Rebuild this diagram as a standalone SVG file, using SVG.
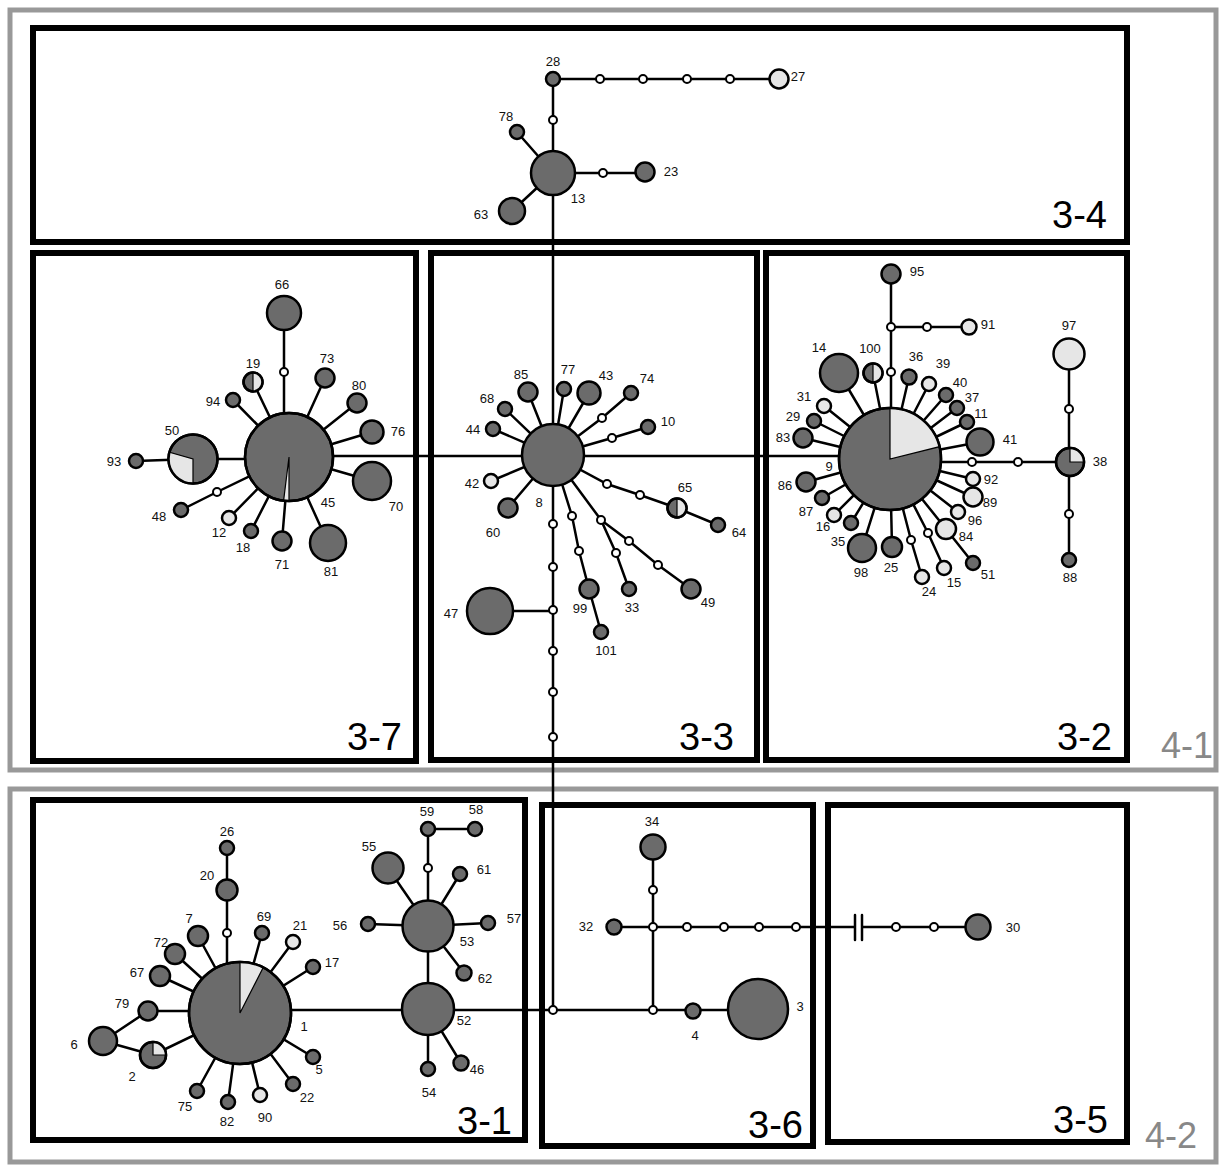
<svg xmlns="http://www.w3.org/2000/svg" width="1223" height="1168" viewBox="0 0 1223 1168">
<style>
.e{stroke:#000;stroke-width:2.5;fill:none;stroke-linecap:round}
.d{fill:#6b6b6b;stroke:#000;stroke-width:2.5}
.l{fill:#e6e6e6;stroke:#000;stroke-width:2.5}
.m{fill:#fff;stroke:#000;stroke-width:2}
.w{fill:#e6e6e6;stroke:#000;stroke-width:1.2}
.o{fill:none;stroke:#000;stroke-width:2.5}
.t{font-family:"Liberation Sans",Arial,sans-serif;font-size:13px;text-anchor:middle;fill:#111}
.bx{fill:none;stroke:#000;stroke-width:6}
.gx{fill:none;stroke:#999;stroke-width:5}
.bl{font-family:"Liberation Sans",Arial,sans-serif;font-size:38px;text-anchor:end;fill:#000}
.gl{font-family:"Liberation Sans",Arial,sans-serif;font-size:36px;text-anchor:end;fill:#888}
</style>
<rect width="1223" height="1168" fill="#fff"/>
<g id="frames">
<rect class="gx" x="10" y="10" width="1206" height="760"/>
<rect class="gx" x="10" y="789" width="1206" height="373"/>
<rect class="bx" x="33" y="28" width="1094" height="214"/>
<rect class="bx" x="33" y="253" width="383" height="508"/>
<rect class="bx" x="431" y="253" width="326" height="507"/>
<rect class="bx" x="766" y="253" width="361" height="507"/>
<rect class="bx" x="33" y="800" width="492" height="340"/>
<rect class="bx" x="542" y="805" width="271" height="341"/>
<rect class="bx" x="828" y="805" width="299" height="337"/>
<text class="bl" x="1107" y="228">3-4</text>
<text class="bl" x="402" y="750">3-7</text>
<text class="bl" x="734" y="750">3-3</text>
<text class="bl" x="1112" y="750">3-2</text>
<text class="bl" x="512" y="1134">3-1</text>
<text class="bl" x="803" y="1138">3-6</text>
<text class="bl" x="1108" y="1133">3-5</text>
<text class="gl" x="1213" y="758">4-1</text>
<text class="gl" x="1197" y="1148">4-2</text>
</g>
<g id="connectors">
<path class="e" d="M553 79 H779 M553 79 V1010 M553 173 L517 132 M553 173 L512 211 M553 173 H645"/>
<path class="e" d="M289 456 H890 M890 462 H1070 M1069 354 V560"/>
<path class="e" d="M284 457 V313 M289 457 L253 382 M289 457 L233 400 M289 457 L325 378 M289 457 L357 403 M289 457 L372 432 M289 457 L372 481 M289 457 L328 543 M289 457 L282 541 M289 457 L251 531 M289 457 L229 518 M289 457 L217 492 L181 510 M289 459 L193 459 L136 461"/>
<path class="e" d="M553 455 L528 392 M553 455 L564 389 M553 455 L589 393 M553 455 L602 418 L631 393 M553 455 L612 438 L648 427 M553 455 L505 409 M553 455 L493 429 M553 455 L491 481 M553 455 L508 508 M553 455 L607 484 L640 495 L677 508 L718 525 M553 455 L572 516 L579 551 L589 589 L601 632 M553 455 L601 520 L616 553 L629 589 M601 520 L629 541 L658 565 L691 589 M490 611 H553"/>
<path class="e" d="M891 459 V274 M891 327 H969 M890 459 L839 373 M890 459 L873 373 M890 459 L909 377 M890 459 L929 384 M890 459 L946 395 M890 459 L957 408 M890 459 L967 422 M890 459 L980 442 M890 459 L824 406 M890 459 L814 421 M890 459 L803 438 M890 459 L806 482 M890 459 L822 498 M890 459 L834 515 M890 459 L851 523 M890 459 L862 548 M890 459 L892 547 M890 459 L911 540 L922 577 M890 459 L928 533 L944 568 M890 459 L946 529 L973 563 M890 459 L958 512 M890 459 L973 497 M890 459 L973 479"/>
<path class="e" d="M227 1013 V848 M240 1013 L198 936 M240 1013 L175 954 M240 1013 L160 976 M240 1011 L148 1011 M240 1013 L153 1055 M148 1011 L103 1041 L153 1055 M240 1013 L197 1091 M240 1013 L228 1102 M240 1013 L260 1095 M240 1013 L293 1084 M240 1013 L313 1057 M240 1013 L313 967 M240 1013 L293 942 M240 1013 L262 933 M240 1010 H758"/>
<path class="e" d="M428 1009 V829 H475 M428 926 L388 868 M428 926 L460 874 M428 926 L368 924 M428 926 L488 923 M428 926 L464 973 M428 1009 L428 1069 M428 1009 L461 1063"/>
<path class="e" d="M653 1010 V847 M614 927 H855 M862 927 H978 M855 915 V940 M862 915 V940"/>
</g>
<g id="mediators">
<circle class="m" cx="600" cy="79" r="4"/><circle class="m" cx="643" cy="79" r="4"/><circle class="m" cx="687" cy="79" r="4"/><circle class="m" cx="730" cy="79" r="4"/><circle class="m" cx="553" cy="120" r="4"/><circle class="m" cx="603" cy="173" r="4"/>
<circle class="m" cx="284" cy="372" r="4"/><circle class="m" cx="217" cy="492" r="4"/>
<circle class="m" cx="602" cy="418" r="4"/><circle class="m" cx="612" cy="438" r="4"/><circle class="m" cx="607" cy="484" r="4"/><circle class="m" cx="640" cy="495" r="4"/><circle class="m" cx="572" cy="516" r="4"/><circle class="m" cx="579" cy="551" r="4"/><circle class="m" cx="601" cy="520" r="4"/><circle class="m" cx="616" cy="553" r="4"/><circle class="m" cx="629" cy="541" r="4"/><circle class="m" cx="658" cy="565" r="4"/>
<circle class="m" cx="553" cy="524" r="4"/><circle class="m" cx="553" cy="567" r="4"/><circle class="m" cx="553" cy="610" r="4"/><circle class="m" cx="553" cy="651" r="4"/><circle class="m" cx="553" cy="692" r="4"/><circle class="m" cx="553" cy="737" r="4"/><circle class="m" cx="553" cy="1010" r="4"/>
<circle class="m" cx="891" cy="372" r="4"/><circle class="m" cx="891" cy="327" r="4"/><circle class="m" cx="927" cy="327" r="4"/><circle class="m" cx="972" cy="462" r="4"/><circle class="m" cx="1018" cy="462" r="4"/><circle class="m" cx="1069" cy="409" r="4"/><circle class="m" cx="1069" cy="514" r="4"/><circle class="m" cx="911" cy="540" r="4"/><circle class="m" cx="928" cy="533" r="4"/>
<circle class="m" cx="227" cy="933" r="4"/><circle class="m" cx="428" cy="868" r="4"/>
<circle class="m" cx="653" cy="1010" r="4"/><circle class="m" cx="653" cy="927" r="4"/><circle class="m" cx="653" cy="890" r="4"/><circle class="m" cx="687" cy="927" r="4"/><circle class="m" cx="724" cy="927" r="4"/><circle class="m" cx="759" cy="927" r="4"/><circle class="m" cx="796" cy="927" r="4"/><circle class="m" cx="896" cy="927" r="4"/><circle class="m" cx="934" cy="927" r="4"/>
</g>
<g id="n28"><circle class="d" cx="553" cy="79" r="7"/><text class="t" x="553" y="66">28</text></g>
<g id="n27"><circle class="l" cx="779" cy="79" r="9.5"/><text class="t" x="798" y="81">27</text></g>
<g id="n78"><circle class="d" cx="517" cy="132" r="7"/><text class="t" x="506" y="121">78</text></g>
<g id="n13"><circle class="d" cx="553" cy="173" r="22"/><text class="t" x="578" y="203">13</text></g>
<g id="n63"><circle class="d" cx="512" cy="211" r="13"/><text class="t" x="481" y="219">63</text></g>
<g id="n23"><circle class="d" cx="645" cy="172" r="9.5"/><text class="t" x="671" y="176">23</text></g>
<g id="n66"><circle class="d" cx="284" cy="313" r="17"/><text class="t" x="282" y="289">66</text></g>
<g id="n19"><circle class="d" cx="253" cy="382" r="9.5"/><path class="w" d="M253 372.5 A9.5 9.5 0 0 1 253 391.5 Z"/><circle class="o" cx="253" cy="382" r="9.5"/><text class="t" x="253" y="368">19</text></g>
<g id="n94"><circle class="d" cx="233" cy="400" r="7"/><text class="t" x="213" y="406">94</text></g>
<g id="n73"><circle class="d" cx="325" cy="378" r="9.5"/><text class="t" x="327" y="363">73</text></g>
<g id="n80"><circle class="d" cx="357" cy="403" r="9.5"/><text class="t" x="359" y="390">80</text></g>
<g id="n76"><circle class="d" cx="372" cy="432" r="11.5"/><text class="t" x="398" y="436">76</text></g>
<g id="n70"><circle class="d" cx="372" cy="481" r="19"/><text class="t" x="396" y="511">70</text></g>
<g id="n45"><circle class="d" cx="289" cy="457" r="44"/><path class="w" d="M289 457 L289 501 A44 44 0 0 1 283.6 500.7 Z"/><circle class="o" cx="289" cy="457" r="44"/><text class="t" x="328" y="507">45</text></g>
<g id="n81"><circle class="d" cx="328" cy="543" r="18"/><text class="t" x="331" y="576">81</text></g>
<g id="n71"><circle class="d" cx="282" cy="541" r="9.5"/><text class="t" x="282" y="569">71</text></g>
<g id="n18"><circle class="d" cx="251" cy="531" r="7"/><text class="t" x="243" y="552">18</text></g>
<g id="n12"><circle class="l" cx="229" cy="518" r="7"/><text class="t" x="219" y="537">12</text></g>
<g id="n48"><circle class="d" cx="181" cy="510" r="7"/><text class="t" x="159" y="521">48</text></g>
<g id="n50"><circle class="d" cx="193" cy="459" r="24.5"/><path class="w" d="M193 459 L193 483.5 A24.5 24.5 0 0 1 169.4 452.2 Z"/><circle class="o" cx="193" cy="459" r="24.5"/><text class="t" x="172" y="435">50</text></g>
<g id="n93"><circle class="d" cx="136" cy="461" r="7"/><text class="t" x="114" y="466">93</text></g>
<g id="n8"><circle class="d" cx="553" cy="455" r="31"/><text class="t" x="539" y="507">8</text></g>
<g id="n85"><circle class="d" cx="528" cy="392" r="9.5"/><text class="t" x="521" y="379">85</text></g>
<g id="n77"><circle class="d" cx="564" cy="389" r="7"/><text class="t" x="568" y="374">77</text></g>
<g id="n43"><circle class="d" cx="589" cy="393" r="11.5"/><text class="t" x="606" y="380">43</text></g>
<g id="n74"><circle class="d" cx="631" cy="393" r="7"/><text class="t" x="647" y="383">74</text></g>
<g id="n10"><circle class="d" cx="648" cy="427" r="7"/><text class="t" x="668" y="426">10</text></g>
<g id="n68"><circle class="d" cx="505" cy="409" r="7"/><text class="t" x="487" y="403">68</text></g>
<g id="n44"><circle class="d" cx="493" cy="429" r="7"/><text class="t" x="473" y="434">44</text></g>
<g id="n42"><circle class="l" cx="491" cy="481" r="7"/><text class="t" x="472" y="488">42</text></g>
<g id="n60"><circle class="d" cx="508" cy="508" r="9.5"/><text class="t" x="493" y="537">60</text></g>
<g id="n65"><circle class="d" cx="677" cy="508" r="9.5"/><path class="w" d="M677 498.5 A9.5 9.5 0 0 1 677 517.5 Z"/><circle class="o" cx="677" cy="508" r="9.5"/><text class="t" x="685" y="492">65</text></g>
<g id="n64"><circle class="d" cx="718" cy="525" r="7"/><text class="t" x="739" y="537">64</text></g>
<g id="n99"><circle class="d" cx="589" cy="589" r="9.5"/><text class="t" x="580" y="613">99</text></g>
<g id="n101"><circle class="d" cx="601" cy="632" r="7"/><text class="t" x="606" y="655">101</text></g>
<g id="n33"><circle class="d" cx="629" cy="589" r="7"/><text class="t" x="632" y="612">33</text></g>
<g id="n49"><circle class="d" cx="691" cy="589" r="9.5"/><text class="t" x="708" y="607">49</text></g>
<g id="n47"><circle class="d" cx="490" cy="611" r="23"/><text class="t" x="451" y="618">47</text></g>
<g id="n9"><circle class="d" cx="890" cy="459" r="51"/><path class="w" d="M890 459 L890 408 A51 51 0 0 1 939.5 446.7 Z"/><circle class="o" cx="890" cy="459" r="51"/><text class="t" x="829" y="471">9</text></g>
<g id="n95"><circle class="d" cx="891" cy="274" r="9.5"/><text class="t" x="917" y="276">95</text></g>
<g id="n91"><circle class="l" cx="969" cy="327" r="7.5"/><text class="t" x="988" y="329">91</text></g>
<g id="n14"><circle class="d" cx="839" cy="373" r="19"/><text class="t" x="819" y="352">14</text></g>
<g id="n100"><circle class="d" cx="873" cy="373" r="9.5"/><path class="w" d="M873 363.5 A9.5 9.5 0 0 1 873 382.5 Z"/><circle class="o" cx="873" cy="373" r="9.5"/><text class="t" x="870" y="353">100</text></g>
<g id="n36"><circle class="d" cx="909" cy="377" r="7.5"/><text class="t" x="916" y="361">36</text></g>
<g id="n39"><circle class="l" cx="929" cy="384" r="7"/><text class="t" x="943" y="368">39</text></g>
<g id="n40"><circle class="d" cx="946" cy="395" r="7"/><text class="t" x="960" y="387">40</text></g>
<g id="n37"><circle class="d" cx="957" cy="408" r="7"/><text class="t" x="972" y="402">37</text></g>
<g id="n11"><circle class="d" cx="967" cy="422" r="7"/><text class="t" x="981" y="418">11</text></g>
<g id="n41"><circle class="d" cx="980" cy="442" r="13.5"/><text class="t" x="1010" y="444">41</text></g>
<g id="n31"><circle class="l" cx="824" cy="406" r="7"/><text class="t" x="804" y="401">31</text></g>
<g id="n29"><circle class="d" cx="814" cy="421" r="7"/><text class="t" x="793" y="421">29</text></g>
<g id="n83"><circle class="d" cx="803" cy="438" r="9.5"/><text class="t" x="783" y="442">83</text></g>
<g id="n86"><circle class="d" cx="806" cy="482" r="9.5"/><text class="t" x="785" y="490">86</text></g>
<g id="n87"><circle class="d" cx="822" cy="498" r="7"/><text class="t" x="806" y="516">87</text></g>
<g id="n16"><circle class="l" cx="834" cy="515" r="7"/><text class="t" x="823" y="531">16</text></g>
<g id="n35"><circle class="d" cx="851" cy="523" r="7"/><text class="t" x="838" y="546">35</text></g>
<g id="n98"><circle class="d" cx="862" cy="548" r="14"/><text class="t" x="861" y="577">98</text></g>
<g id="n25"><circle class="d" cx="892" cy="547" r="10"/><text class="t" x="891" y="572">25</text></g>
<g id="n24"><circle class="l" cx="922" cy="577" r="7"/><text class="t" x="929" y="596">24</text></g>
<g id="n15"><circle class="l" cx="944" cy="568" r="7"/><text class="t" x="954" y="587">15</text></g>
<g id="n84"><circle class="l" cx="946" cy="529" r="10"/><text class="t" x="966" y="541">84</text></g>
<g id="n51"><circle class="d" cx="973" cy="563" r="7"/><text class="t" x="988" y="579">51</text></g>
<g id="n96"><circle class="l" cx="958" cy="512" r="7"/><text class="t" x="975" y="525">96</text></g>
<g id="n89"><circle class="l" cx="973" cy="497" r="9.5"/><text class="t" x="990" y="507">89</text></g>
<g id="n92"><circle class="l" cx="973" cy="479" r="7"/><text class="t" x="991" y="484">92</text></g>
<g id="n38"><circle class="d" cx="1070" cy="462" r="14"/><path class="w" d="M1070 462 L1070 448 A14 14 0 0 1 1084 462 Z"/><circle class="o" cx="1070" cy="462" r="14"/><text class="t" x="1100" y="466">38</text></g>
<g id="n97"><circle class="l" cx="1069" cy="354" r="15.5"/><text class="t" x="1069" y="330">97</text></g>
<g id="n88"><circle class="d" cx="1069" cy="560" r="7"/><text class="t" x="1070" y="582">88</text></g>
<g id="n1"><circle class="d" cx="240" cy="1013" r="51"/><path class="w" d="M240 1013 L240 962 A51 51 0 0 1 263.2 967.6 Z"/><circle class="o" cx="240" cy="1013" r="51"/><text class="t" x="304" y="1031">1</text></g>
<g id="n20"><circle class="d" cx="227" cy="890" r="10.5"/><text class="t" x="207" y="880">20</text></g>
<g id="n26"><circle class="d" cx="227" cy="848" r="7"/><text class="t" x="227" y="836">26</text></g>
<g id="n7"><circle class="d" cx="198" cy="936" r="10"/><text class="t" x="189" y="923">7</text></g>
<g id="n72"><circle class="d" cx="175" cy="954" r="10"/><text class="t" x="161" y="947">72</text></g>
<g id="n67"><circle class="d" cx="160" cy="976" r="10"/><text class="t" x="137" y="977">67</text></g>
<g id="n79"><circle class="d" cx="148" cy="1011" r="9.5"/><text class="t" x="122" y="1008">79</text></g>
<g id="n6"><circle class="d" cx="103" cy="1041" r="14"/><text class="t" x="74" y="1049">6</text></g>
<g id="n2"><circle class="d" cx="153" cy="1055" r="13"/><path class="w" d="M153 1055 L153 1042 A13 13 0 0 1 166 1055 Z"/><circle class="o" cx="153" cy="1055" r="13"/><text class="t" x="132" y="1081">2</text></g>
<g id="n75"><circle class="d" cx="197" cy="1091" r="7"/><text class="t" x="185" y="1111">75</text></g>
<g id="n82"><circle class="d" cx="228" cy="1102" r="7"/><text class="t" x="227" y="1126">82</text></g>
<g id="n90"><circle class="l" cx="260" cy="1095" r="7"/><text class="t" x="265" y="1122">90</text></g>
<g id="n22"><circle class="d" cx="293" cy="1084" r="7"/><text class="t" x="307" y="1102">22</text></g>
<g id="n5"><circle class="d" cx="313" cy="1057" r="7"/><text class="t" x="319" y="1074">5</text></g>
<g id="n17"><circle class="d" cx="313" cy="967" r="7"/><text class="t" x="332" y="967">17</text></g>
<g id="n21"><circle class="l" cx="293" cy="942" r="7"/><text class="t" x="300" y="930">21</text></g>
<g id="n69"><circle class="d" cx="262" cy="933" r="7"/><text class="t" x="264" y="921">69</text></g>
<g id="n52"><circle class="d" cx="428" cy="1009" r="26"/><text class="t" x="464" y="1025">52</text></g>
<g id="n53"><circle class="d" cx="428" cy="926" r="25.5"/><text class="t" x="467" y="946">53</text></g>
<g id="n59"><circle class="d" cx="428" cy="829" r="7"/><text class="t" x="427" y="816">59</text></g>
<g id="n58"><circle class="d" cx="475" cy="829" r="7"/><text class="t" x="476" y="814">58</text></g>
<g id="n55"><circle class="d" cx="388" cy="868" r="15.5"/><text class="t" x="369" y="851">55</text></g>
<g id="n61"><circle class="d" cx="460" cy="874" r="7"/><text class="t" x="484" y="874">61</text></g>
<g id="n56"><circle class="d" cx="368" cy="924" r="7"/><text class="t" x="340" y="930">56</text></g>
<g id="n57"><circle class="d" cx="488" cy="923" r="7"/><text class="t" x="514" y="923">57</text></g>
<g id="n62"><circle class="d" cx="464" cy="973" r="7.5"/><text class="t" x="485" y="983">62</text></g>
<g id="n54"><circle class="d" cx="428" cy="1069" r="7"/><text class="t" x="429" y="1097">54</text></g>
<g id="n46"><circle class="d" cx="461" cy="1063" r="7.5"/><text class="t" x="477" y="1074">46</text></g>
<g id="n34"><circle class="d" cx="653" cy="847" r="12.5"/><text class="t" x="652" y="826">34</text></g>
<g id="n32"><circle class="d" cx="614" cy="927" r="7.5"/><text class="t" x="586" y="931">32</text></g>
<g id="n4"><circle class="d" cx="693" cy="1011" r="7.5"/><text class="t" x="695" y="1040">4</text></g>
<g id="n3"><circle class="d" cx="758" cy="1009" r="30"/><text class="t" x="800" y="1011">3</text></g>
<g id="n30"><circle class="d" cx="978" cy="927" r="12.5"/><text class="t" x="1013" y="932">30</text></g>
</svg>
